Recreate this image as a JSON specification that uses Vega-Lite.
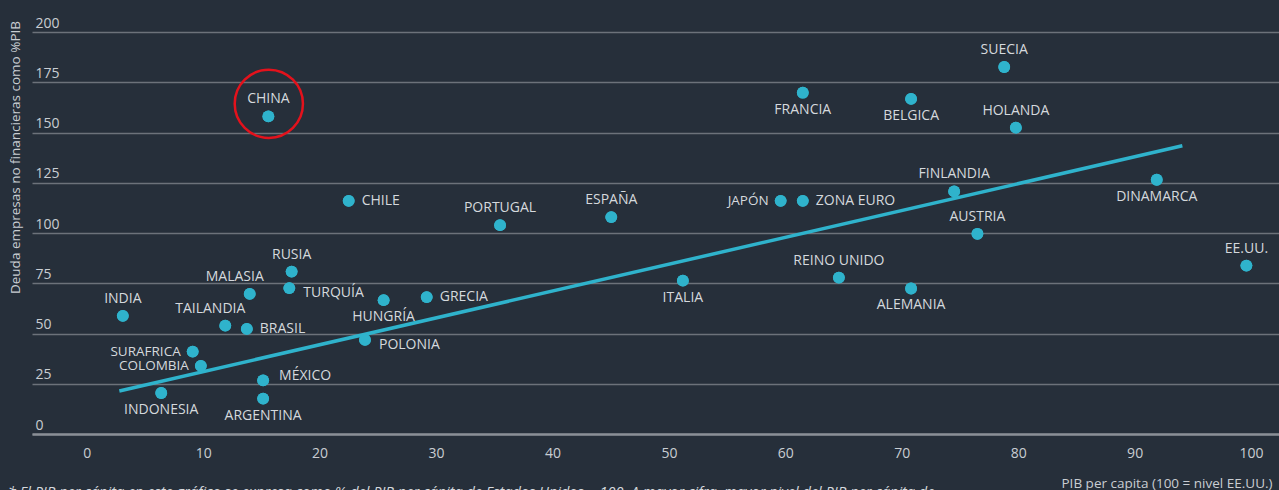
{
  "$schema": "https://vega.github.io/schema/vega-lite/v6.json",
  "width": 1247,
  "height": 402,
  "autosize": "none",
  "padding": {"left": 32, "top": 32, "right": 0, "bottom": 56},
  "background": "#262f3a",
  "config": {"view": {"stroke": null}, "font": "Open Sans"},
  "title": {
    "text": "* El PIB per cápita en este gráfico se expresa como % del PIB per cápita de Estados Unidos = 100. A mayor cifra, mayor nivel del PIB per cápita de",
    "orient": "bottom",
    "anchor": "start",
    "frame": "group",
    "offset": -4,
    "dx": -24,
    "baseline": "top",
    "font": "Open Sans",
    "fontSize": 14.5,
    "fontStyle": "italic",
    "fontWeight": "normal",
    "color": "#d5d9dd"
  },
  "datasets": {
    "paises": [
      {"pais": "CHINA", "pib": 15.6, "deuda": 158.0},
      {"pais": "CHILE", "pib": 22.5, "deuda": 116.0},
      {"pais": "RUSIA", "pib": 17.6, "deuda": 80.8},
      {"pais": "MALASIA", "pib": 14.0, "deuda": 69.7},
      {"pais": "TURQUÍA", "pib": 17.4, "deuda": 72.6},
      {"pais": "INDIA", "pib": 3.1, "deuda": 58.8},
      {"pais": "TAILANDIA", "pib": 11.9, "deuda": 53.9},
      {"pais": "BRASIL", "pib": 13.75, "deuda": 52.3},
      {"pais": "SURAFRICA", "pib": 9.1, "deuda": 41.0},
      {"pais": "COLOMBIA", "pib": 9.8, "deuda": 33.9},
      {"pais": "INDONESIA", "pib": 6.4, "deuda": 20.4},
      {"pais": "MÉXICO", "pib": 15.15, "deuda": 26.7},
      {"pais": "ARGENTINA", "pib": 15.15, "deuda": 17.6},
      {"pais": "HUNGRÍA", "pib": 25.5, "deuda": 66.6},
      {"pais": "POLONIA", "pib": 23.9, "deuda": 46.8},
      {"pais": "GRECIA", "pib": 29.2, "deuda": 68.1},
      {"pais": "PORTUGAL", "pib": 35.5, "deuda": 103.9},
      {"pais": "ESPAÑA", "pib": 45.05, "deuda": 107.9},
      {"pais": "FRANCIA", "pib": 61.5, "deuda": 169.8},
      {"pais": "JAPÓN", "pib": 59.6, "deuda": 116.0},
      {"pais": "ZONA EURO", "pib": 61.5, "deuda": 116.0},
      {"pais": "SUECIA", "pib": 78.8, "deuda": 182.6},
      {"pais": "BELGICA", "pib": 70.8, "deuda": 166.7},
      {"pais": "HOLANDA", "pib": 79.8, "deuda": 152.4},
      {"pais": "FINLANDIA", "pib": 74.5, "deuda": 120.7},
      {"pais": "DINAMARCA", "pib": 91.9, "deuda": 126.5},
      {"pais": "AUSTRIA", "pib": 76.5, "deuda": 99.6},
      {"pais": "EE.UU.", "pib": 99.6, "deuda": 83.8},
      {"pais": "ALEMANIA", "pib": 70.8, "deuda": 72.4},
      {"pais": "REINO UNIDO", "pib": 64.6, "deuda": 77.8},
      {"pais": "ITALIA", "pib": 51.2, "deuda": 76.3}
    ],
    "tendencia": [
      {"pib": 2.8, "deuda": 21.4},
      {"pib": 94.1, "deuda": 143.4}
    ],
    "destacado": [
      {"pais": "CHINA", "pib": 15.64, "deuda": 164.3}
    ]
  },
  "layer": [
    {
      "data": {"name": "paises"},
      "mark": {"type": "point", "filled": true, "opacity": 1, "size": 140, "color": "#2fb3cc", "shape": "circle"},
      "encoding": {
        "x": {
          "field": "pib", "type": "quantitative",
          "scale": {"domain": [-4.7, 102.4], "nice": false, "zero": false},
          "axis": {
            "values": [0, 10, 20, 30, 40, 50, 60, 70, 80, 90, 100],
            "grid": false, "ticks": false, "tickSize": 0,
            "domain": true, "domainColor": "#8a8f96", "domainWidth": 2.5,
            "labelFont": "Open Sans", "labelFontSize": 14, "labelColor": "#c9cdd2",
            "labelPadding": 12, "labelFlush": false,
            "title": "PIB per capita (100 = nivel EE.UU.)",
            "titleFont": "Open Sans", "titleFontSize": 13.5, "titleFontWeight": "normal",
            "titleColor": "#c9cdd2", "titleAlign": "right", "titleAnchor": "end",
            "titleX": 1240, "titleY": 49, "titleBaseline": "middle"
          }
        },
        "y": {
          "field": "deuda", "type": "quantitative",
          "scale": {"domain": [0, 200], "nice": false},
          "axis": {
            "values": [0, 25, 50, 75, 100, 125, 150, 175, 200],
            "grid": true, "gridColor": "#6c727a", "gridWidth": 1.5,
            "ticks": false, "tickSize": 0, "domain": false,
            "labelAlign": "left", "labelPadding": -3, "labelBaseline": "alphabetic", "labelOffset": -5,
            "labelFont": "Open Sans", "labelFontSize": 14, "labelColor": "#c9cdd2",
            "title": "Deuda empresas no financieras como %PIB",
            "titleFont": "Open Sans", "titleFontSize": 13.5, "titleFontWeight": "normal",
            "titleColor": "#c9cdd2", "titleX": -17, "titleY": 125,
            "titleAlign": "center", "titleBaseline": "middle", "titleAngle": -90
          }
        }
      }
    },
    {
      "data": {"name": "tendencia"},
      "mark": {"type": "line", "color": "#2fb3cc", "strokeWidth": 3.5},
      "encoding": {
        "x": {"field": "pib", "type": "quantitative"},
        "y": {"field": "deuda", "type": "quantitative"}
      }
    },
    {
      "data": {"name": "paises"},
      "mark": {"type": "point", "filled": true, "opacity": 1, "size": 140, "color": "#2fb3cc", "shape": "circle"},
      "encoding": {
        "x": {"field": "pib", "type": "quantitative"},
        "y": {"field": "deuda", "type": "quantitative"}
      }
    },
    {
      "data": {"name": "destacado"},
      "mark": {"type": "point", "filled": false, "size": 4657, "stroke": "#e3121c", "strokeWidth": 2.5, "opacity": 1, "shape": "circle"},
      "encoding": {
        "x": {"field": "pib", "type": "quantitative"},
        "y": {"field": "deuda", "type": "quantitative"}
      }
    },
    {
      "data": {"name": "paises"},
      "transform": [{"filter": {"field": "pais", "oneOf": ["CHINA", "RUSIA", "INDIA", "PORTUGAL", "ESPAÑA", "SUECIA", "HOLANDA", "FINLANDIA", "AUSTRIA", "EE.UU.", "REINO UNIDO"]}}],
      "mark": {"type": "text", "align": "center", "baseline": "middle", "dy": -17, "font": "Open Sans", "fontSize": 14, "color": "#d5d9dd"},
      "encoding": {
        "x": {"field": "pib", "type": "quantitative"},
        "y": {"field": "deuda", "type": "quantitative"},
        "text": {"field": "pais"}
      }
    },
    {
      "data": {"name": "paises"},
      "transform": [{"filter": {"field": "pais", "oneOf": ["MALASIA", "TAILANDIA"]}}],
      "mark": {"type": "text", "align": "center", "baseline": "middle", "dx": -15, "dy": -17, "font": "Open Sans", "fontSize": 14, "color": "#d5d9dd"},
      "encoding": {
        "x": {"field": "pib", "type": "quantitative"},
        "y": {"field": "deuda", "type": "quantitative"},
        "text": {"field": "pais"}
      }
    },
    {
      "data": {"name": "paises"},
      "transform": [{"filter": {"field": "pais", "oneOf": ["INDONESIA", "ARGENTINA", "HUNGRÍA", "FRANCIA", "BELGICA", "DINAMARCA", "ALEMANIA", "ITALIA"]}}],
      "mark": {"type": "text", "align": "center", "baseline": "middle", "dy": 17, "font": "Open Sans", "fontSize": 14, "color": "#d5d9dd"},
      "encoding": {
        "x": {"field": "pib", "type": "quantitative"},
        "y": {"field": "deuda", "type": "quantitative"},
        "text": {"field": "pais"}
      }
    },
    {
      "data": {"name": "paises"},
      "transform": [{"filter": {"field": "pais", "oneOf": ["CHILE", "BRASIL", "GRECIA", "ZONA EURO"]}}],
      "mark": {"type": "text", "align": "left", "baseline": "middle", "dx": 13, "font": "Open Sans", "fontSize": 14, "color": "#d5d9dd"},
      "encoding": {
        "x": {"field": "pib", "type": "quantitative"},
        "y": {"field": "deuda", "type": "quantitative"},
        "text": {"field": "pais"}
      }
    },
    {
      "data": {"name": "paises"},
      "transform": [{"filter": {"field": "pais", "oneOf": ["TURQUÍA", "POLONIA"]}}],
      "mark": {"type": "text", "align": "left", "baseline": "middle", "dx": 14, "dy": 5, "font": "Open Sans", "fontSize": 14, "color": "#d5d9dd"},
      "encoding": {
        "x": {"field": "pib", "type": "quantitative"},
        "y": {"field": "deuda", "type": "quantitative"},
        "text": {"field": "pais"}
      }
    },
    {
      "data": {"name": "paises"},
      "transform": [{"filter": {"field": "pais", "oneOf": ["MÉXICO"]}}],
      "mark": {"type": "text", "align": "left", "baseline": "middle", "dx": 16, "dy": -4, "font": "Open Sans", "fontSize": 14, "color": "#d5d9dd"},
      "encoding": {
        "x": {"field": "pib", "type": "quantitative"},
        "y": {"field": "deuda", "type": "quantitative"},
        "text": {"field": "pais"}
      }
    },
    {
      "data": {"name": "paises"},
      "transform": [{"filter": {"field": "pais", "oneOf": ["SURAFRICA", "COLOMBIA", "JAPÓN"]}}],
      "mark": {"type": "text", "align": "right", "baseline": "middle", "dx": -12, "font": "Open Sans", "fontSize": 13.5, "color": "#d5d9dd"},
      "encoding": {
        "x": {"field": "pib", "type": "quantitative"},
        "y": {"field": "deuda", "type": "quantitative"},
        "text": {"field": "pais"}
      }
    }
  ]
}
